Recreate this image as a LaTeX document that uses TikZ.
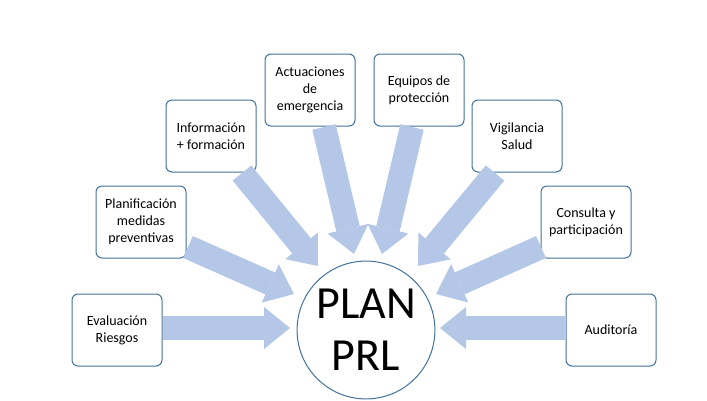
\documentclass[tikz,border=0pt]{standalone}
\usepackage{fontspec}
\setmainfont{Carlito}
\usetikzlibrary{arrows.meta,calc}
\definecolor{arr}{HTML}{B4C7E7}
\definecolor{bd}{HTML}{41719C}
\begin{document}
\begin{tikzpicture}[x=1pt,y=-1pt,
 box/.style={draw=bd,line width=1pt,rounded corners=6pt,minimum width=90pt,minimum height=72pt,align=center,font=\fontsize{14pt}{17pt}\selectfont,fill=white},
 ar/.style={draw=arr,line width=24pt,-{Triangle[width=42pt,length=26pt,line width=0pt,sep=0pt]}}]
\useasboundingbox (0,0) rectangle (707,400);
\node[circle,draw=bd,line width=1pt,minimum size=132pt,align=center,font=\fontsize{46pt}{52pt}\selectfont] (c) at (366,330) {PLAN\\PRL};
\node[box] (b1) at (117,330) {Evaluación\\Riesgos};
\node[box] (b2) at (141,222) {Planificación\\medidas\\preventivas};
\node[box] (b3) at (211,136) {Información\\+ formación};
\node[box] (b4) at (310,90) {Actuaciones\\de\\emergencia};
\node[box] (b5) at (419,90) {Equipos de\\protección};
\node[box] (b6) at (517,136) {Vigilancia\\Salud};
\node[box] (b7) at (586,222) {Consulta y\\participación};
\node[box] (b8) at (611,330) {Auditoría};
\coordinate (s1) at (163,328); \coordinate (e1) at (290,328);
\coordinate (s2) at (188,247); \coordinate (e2) at (294,294);
\coordinate (s3) at (242,173); \coordinate (e3) at (318,266);
\coordinate (s4) at (324,127); \coordinate (e4) at (354,254);
\coordinate (s5) at (412,127); \coordinate (e5) at (382,254);
\coordinate (s6) at (495,173); \coordinate (e6) at (418,266);
\coordinate (s7) at (541,247); \coordinate (e7) at (436,294);
\coordinate (s8) at (565,328); \coordinate (e8) at (440,328);
\foreach \i in {1,...,8}{\draw[ar] (s\i) -- (e\i);}
\end{tikzpicture}
\end{document}
